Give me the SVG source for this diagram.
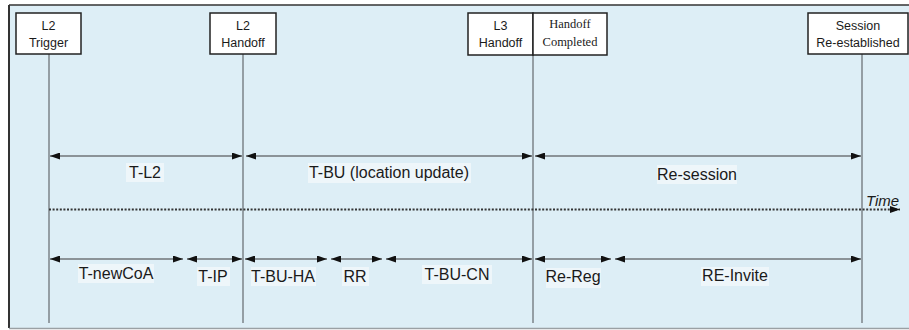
<svg xmlns="http://www.w3.org/2000/svg" width="909" height="330" viewBox="0 0 909 330">
<defs>
<marker id="ah" viewBox="0 0 10 7" refX="10" refY="3.5" markerWidth="10" markerHeight="7" markerUnits="userSpaceOnUse" orient="auto-start-reverse">
<path d="M0,0 L10,3.5 L0,7 z" fill="#111"/>
</marker>
</defs>
<style>
.bg{fill:#ddeef6}
.box{fill:#fff;stroke:#222;stroke-width:1.5}
.hd{font-family:"Liberation Sans",Arial,sans-serif;font-size:12.5px;fill:#1a1a1a;text-anchor:middle}
.hs{font-family:"Liberation Serif","Times New Roman",serif;font-size:12.5px;fill:#1a1a1a;text-anchor:middle}
.vl{stroke:#949ea4;stroke-width:2;fill:none}
.arr{stroke:#6f7478;stroke-width:1.5;fill:none;marker-start:url(#ah);marker-end:url(#ah)}
.lb{font-family:"Liberation Sans",Arial,sans-serif;font-size:16px;fill:#1a1a1a;text-anchor:middle}
.lbg{fill:#eef6fa}
</style>
<rect x="0" y="0" width="909" height="330" fill="#fff"/>
<rect class="bg" x="9" y="5" width="900" height="323"/>
<line x1="9" y1="5" x2="909" y2="5" stroke="#333" stroke-width="1.5"/>
<line x1="9" y1="5" x2="9" y2="328" stroke="#333" stroke-width="2"/>
<line x1="9" y1="328.5" x2="909" y2="328.5" stroke="#9aa0a4" stroke-width="1.5"/>

<g id="connectors">
<line class="vl" x1="49" y1="54" x2="49" y2="323"/>
<line class="vl" x1="243" y1="54" x2="243" y2="323"/>
<line class="vl" x1="533" y1="55" x2="533" y2="323"/>
<line class="vl" x1="862" y1="54" x2="862" y2="323"/>
<line class="arr" x1="50" y1="156" x2="242" y2="156"/>
<line class="arr" x1="246" y1="156" x2="532" y2="156"/>
<line class="arr" x1="535" y1="156" x2="861" y2="156"/>
<line class="arr" x1="50" y1="259" x2="183" y2="259"/>
<line class="arr" x1="187" y1="259" x2="242" y2="259"/>
<line class="arr" x1="245" y1="259" x2="327" y2="259"/>
<line class="arr" x1="331" y1="259" x2="382" y2="259"/>
<line class="arr" x1="386" y1="259" x2="532" y2="259"/>
<line class="arr" x1="535" y1="259" x2="611" y2="259"/>
<line class="arr" x1="615" y1="259" x2="861" y2="259"/>
<line x1="49" y1="209.5" x2="900" y2="209.5" stroke="#333" stroke-width="2" stroke-dasharray="2,1.6" marker-end="url(#ah)"/>
</g>

<g id="n-l2-trigger">
<rect class="box" x="16" y="13" width="65" height="41"/>
<text class="hd" x="48.5" y="30">L2</text>
<text class="hd" x="48.5" y="47">Trigger</text>
</g>
<g id="n-l2-handoff">
<rect class="box" x="210" y="13" width="66" height="41"/>
<text class="hd" x="243" y="30">L2</text>
<text class="hd" x="243" y="47">Handoff</text>
</g>
<g id="n-l3-handoff">
<rect class="box" x="468" y="13" width="65" height="42"/>
<text class="hd" x="500.5" y="30">L3</text>
<text class="hd" x="500.5" y="47">Handoff</text>
</g>
<g id="n-handoff-completed">
<rect class="box" x="533" y="13" width="74" height="42"/>
<text class="hs" x="570" y="28">Handoff</text>
<text class="hs" x="570" y="46">Completed</text>
</g>
<g id="n-session">
<rect class="box" x="808" y="13" width="100" height="41"/>
<text class="hd" x="858" y="30">Session</text>
<text class="hd" x="858" y="47">Re-established</text>
</g>

<g id="labels">
<rect class="lbg" x="126" y="163" width="38" height="19"/>
<text class="lb" x="145" y="178">T-L2</text>
<rect class="lbg" x="308" y="163" width="163" height="20"/>
<text class="lb" x="389" y="178">T-BU (location update)</text>
<rect class="lbg" x="657" y="165" width="80" height="19"/>
<text class="lb" x="697" y="180">Re-session</text>
<text x="866" y="206" font-family="Liberation Sans,Arial,sans-serif" font-size="15px" font-style="italic" fill="#1a1a1a">Time</text>
<rect class="lbg" x="78" y="264" width="76" height="19"/>
<text class="lb" x="116" y="279">T-newCoA</text>
<rect class="lbg" x="197" y="267" width="33" height="19"/>
<text class="lb" x="213" y="282">T-IP</text>
<rect class="lbg" x="251" y="267" width="65" height="19"/>
<text class="lb" x="283" y="282">T-BU-HA</text>
<rect class="lbg" x="342" y="267" width="27" height="19"/>
<text class="lb" x="355" y="282">RR</text>
<rect class="lbg" x="422" y="265" width="70" height="19"/>
<text class="lb" x="457" y="280">T-BU-CN</text>
<rect class="lbg" x="546" y="268" width="55" height="20"/>
<text class="lb" x="573" y="282">Re-Reg</text>
<rect class="lbg" x="701" y="267" width="68" height="19"/>
<text class="lb" x="735" y="281">RE-Invite</text>
</g>
</svg>
